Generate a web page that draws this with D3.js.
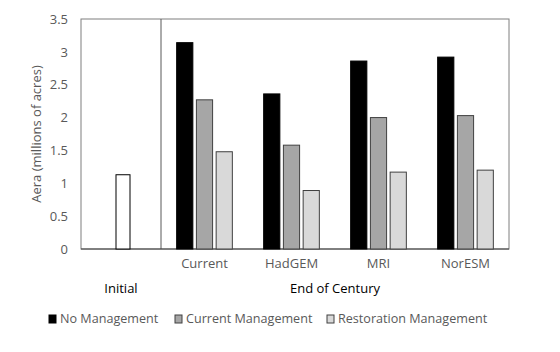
<!DOCTYPE html>
<html>
<head>
<meta charset="utf-8">
<script src="https://cdn.jsdelivr.net/npm/d3@7"></script>
<style>
  body { margin: 0; background: #fff; }
  text { font-family: "Open Sans", sans-serif; }
</style>
</head>
<body>
<div id="chart"></div>
<script>
// data
var seriesNames = ["No Management", "Current Management", "Restoration Management"];
var seriesFill = ["#000000", "#a6a6a6", "#d9d9d9"];
var scenarios = ["Current", "HadGEM", "MRI", "NorESM"];
var noManagement = [3.14, 2.36, 2.86, 2.92];
var currentManagement = [2.27, 1.58, 2.00, 2.03];
var restorationManagement = [1.48, 0.89, 1.17, 1.20];
var initialValue = [1.13];
var yTicks = [0, 0.5, 1, 1.5, 2, 2.5, 3, 3.5];

var width = 560, height = 352;
var margins = { left: 81, right: 51, top: 19, bottom: 103 };
var innerW = width - margins.left - margins.right;
var innerH = height - margins.top - margins.bottom;
var splitX = 80; // end of the "Initial" panel

var svg = d3.select("#chart").append("svg")
    .attr("width", width)
    .attr("height", height);

var g = svg.append("g")
    .attr("transform", "translate(" + margins.left + "," + margins.top + ")");

var y = d3.scaleLinear().domain([0, 3.5]).range([innerH, 0]);

var xInit = d3.scaleBand().domain(["Initial"]).range([0, splitX]);
var xEnd = d3.scaleBand().domain(scenarios).range([splitX, innerW]).paddingInner(0.36).paddingOuter(0.18);
var xSub = d3.scaleBand().domain(seriesNames).range([0, xEnd.bandwidth()]).paddingInner(0.18);

// plot frame
g.append("rect")
    .attr("x", 0).attr("y", 0)
    .attr("width", innerW).attr("height", innerH)
    .attr("fill", "none").attr("stroke", "#7f7f7f").attr("stroke-width", 1);

g.append("line")
    .attr("x1", splitX).attr("x2", splitX)
    .attr("y1", 0).attr("y2", innerH)
    .attr("stroke", "#595959").attr("stroke-width", 1);

// y axis
var yAxis = d3.axisLeft(y).tickValues(yTicks).tickSize(0).tickPadding(13)
    .tickFormat(function (d) { return d; });
var ya = g.append("g").call(yAxis);
ya.select(".domain").remove();
ya.selectAll("text").attr("fill", "#595959").style("font-size", "13px");

// x axis labels for scenarios
var xa = g.append("g")
    .attr("transform", "translate(0," + innerH + ")")
    .call(d3.axisBottom(xEnd).tickSize(0).tickPadding(10));
xa.select(".domain").remove();
xa.selectAll("text").attr("fill", "#595959").style("font-size", "13px");

g.append("line")
    .attr("x1", 0).attr("x2", innerW)
    .attr("y1", innerH).attr("y2", innerH)
    .attr("stroke", "#404040");

// initial bar
g.selectAll("rect.init")
    .data(initialValue)
    .enter().append("rect")
    .attr("class", "init")
    .attr("x", xInit("Initial") + xInit.bandwidth() / 2 - 5)
    .attr("width", 14)
    .attr("y", function (d) { return y(d); })
    .attr("height", function (d) { return innerH - y(d); })
    .attr("fill", "#ffffff")
    .attr("stroke", "#000000").attr("stroke-width", 1);

// scenario bars
var rows = scenarios.map(function (s, i) {
    return { scenario: s, values: [noManagement[i], currentManagement[i], restorationManagement[i]] };
});

var groups = g.selectAll("g.grp")
    .data(rows)
    .enter().append("g")
    .attr("class", "grp")
    .attr("transform", function (d) { return "translate(" + xEnd(d.scenario) + ",0)"; });

groups.selectAll("rect")
    .data(function (d) { return d.values.map(function (v, j) { return { name: seriesNames[j], value: v, j: j }; }); })
    .enter().append("rect")
    .attr("x", function (d) { return xSub(d.name); })
    .attr("width", xSub.bandwidth())
    .attr("y", function (d) { return y(d.value); })
    .attr("height", function (d) { return innerH - y(d.value); })
    .attr("fill", function (d) { return seriesFill[d.j]; })
    .attr("stroke", function (d) { return d.j === 0 ? "#000" : "#404040"; })
    .attr("stroke-width", 1);

// group titles
g.append("text")
    .attr("x", xInit("Initial") + xInit.bandwidth() / 2)
    .attr("y", innerH + 44)
    .attr("text-anchor", "middle")
    .attr("fill", "#000")
    .style("font-size", "13px")
    .text("Initial");

g.append("text")
    .attr("x", (splitX + innerW) / 2)
    .attr("y", innerH + 44)
    .attr("text-anchor", "middle")
    .attr("fill", "#000")
    .style("font-size", "13px")
    .text("End of Century");

// y axis title
svg.append("text")
    .attr("transform", "translate(41," + (margins.top + innerH / 2) + ") rotate(-90)")
    .attr("text-anchor", "middle")
    .attr("fill", "#595959")
    .style("font-size", "13px")
    .text("Aera (millions of acres)");

// legend
var legendX = [49, 175, 327];
var legend = svg.selectAll("g.legend")
    .data(seriesNames)
    .enter().append("g")
    .attr("class", "legend")
    .attr("transform", function (d, i) { return "translate(" + legendX[i] + ",319)"; });

legend.append("rect")
    .attr("x", 0).attr("y", -4)
    .attr("width", 7).attr("height", 8)
    .attr("fill", function (d, i) { return seriesFill[i]; })
    .attr("stroke", function (d, i) { return i === 0 ? "#000" : "#404040"; });

legend.append("text")
    .attr("x", 11).attr("y", 0)
    .attr("dy", "0.35em")
    .attr("fill", "#595959")
    .style("font-size", "12.6px")
    .text(function (d) { return d; });
</script>
</body>
</html>
